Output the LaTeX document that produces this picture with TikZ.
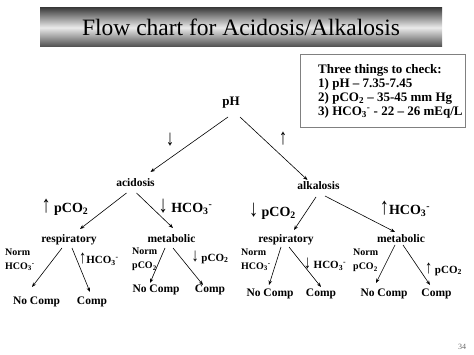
\documentclass[tikz,border=0pt]{standalone}
\usepackage{fontspec}
\setmainfont{Liberation Serif}
\usetikzlibrary{arrows.meta,positioning}
\newcommand{\pco}{pCO\textsubscript{2}}
\newcommand{\bic}{HCO\textsubscript{3}\textsuperscript{-}}
\newcommand{\uparr}{\scalebox{1.3}[1.7]{↑}}
\newcommand{\downarr}{\scalebox{1.3}[1.7]{↓}}
\tikzset{
    statenode/.style={
        font=\fontsize{11.5}{13}\selectfont\bfseries,
        inner sep=0pt,
        text height=8pt,
        text depth=2.5pt
    },
    leafnode/.style={
        statenode
    },
    biglabel/.style={
        font=\fontsize{14}{16}\selectfont\bfseries,
        inner sep=0pt
    },
    smalllabel/.style={
        font=\fontsize{11}{13}\selectfont\bfseries,
        inner sep=0pt
    },
    normlabel/.style={
        font=\fontsize{10}{14}\selectfont\bfseries,
        inner sep=0pt,
        align=left,
        anchor=west
    },
    flow/.style={
        -{Stealth[length=4.5pt,width=3.5pt]},
        line width=0.6pt
    },
    titlebar/.style={
        rectangle,
        top color=black!75,
        bottom color=black!70,
        middle color=black!8,
        minimum width=402pt,
        minimum height=39pt
    }
}
\begin{document}
\begin{tikzpicture}[x=1pt,y=-1pt]
    \useasboundingbox (0,0) rectangle (474,355);
    % Title bar
    \node[titlebar] (bar) at (241,27.5) {};
    \node[font=\fontsize{23.5}{26}\selectfont] (title) at (bar.center) {Flow chart for Acidosis/Alkalosis};

    % Reference values box
    \node[draw=black!50, line width=0.8pt, minimum width=165pt, minimum height=73pt] (box) at (382.5,90.5) {};
    \node[font=\fontsize{13}{14}\selectfont\bfseries, align=left, anchor=west, inner sep=0pt] (check) at (318,91)
        {Three things to check:\\1) pH -- 7.35-7.45\\2) \pco{} -- 35-45 mm Hg\\3) \bic{} - 22 -- 26 mEq/L};

    % Root
    \node[font=\fontsize{13}{15}\selectfont\bfseries, inner sep=0pt] (pH) at (231,103) {pH};

    % Level 1
    \node[statenode] (acid) at (135.5,184) {acidosis};
    \node[statenode] (alk) at (318.5,187) {alkalosis};
    \draw[flow] ([shift={(-3,14)}]pH.center) -- ([shift={(15,-12)}]acid.center);
    \draw[flow] ([shift={(9,14)}]pH.center) -- ([shift={(-11,-7)}]alk.center);
    \node[font=\fontsize{13}{15}\selectfont\bfseries, inner sep=0pt] (down) at (170,140) {\downarr};
    \node[font=\fontsize{13}{15}\selectfont\bfseries, inner sep=0pt] (up) at (283,139) {\uparr};

    % Level 2
    \node[statenode] (resp1) at (69,240) {respiratory};
    \node[statenode] (meta1) at (171.5,240) {metabolic};
    \node[statenode] (resp2) at (286,240) {respiratory};
    \node[statenode] (meta2) at (401,240) {metabolic};
    \draw[flow] ([shift={(-9,9)}]acid.center) -- ([shift={(11,-11)}]resp1.center);
    \draw[flow] ([shift={(1,9)}]acid.center) -- ([shift={(1.5,-12)}]meta1.center);
    \draw[flow] ([shift={(-2.5,10)}]alk.center) -- ([shift={(8,-10)}]resp2.center);
    \draw[flow] ([shift={(6.5,9)}]alk.center) -- ([shift={(-6,-8)}]meta2.center);
    \node[biglabel] (lab1) at (65,207) {\uparr{} \pco};
    \node[biglabel] (lab2) at (185.5,207) {\downarr{} \bic};
    \node[biglabel] (lab3) at (272.5,211) {\downarr{} \pco};
    \node[biglabel] (lab4) at (405,209) {\uparr\bic};

    % Level 3 leaves
    \node[leafnode] (nc1) at (36.5,302) {No Comp};
    \node[leafnode] (c1) at (92,302) {Comp};
    \node[leafnode] (nc2) at (156,290) {No Comp};
    \node[leafnode] (c2) at (210,290) {Comp};
    \node[leafnode] (nc3) at (270,294) {No Comp};
    \node[leafnode] (c3) at (321,294) {Comp};
    \node[leafnode] (nc4) at (384,294) {No Comp};
    \node[leafnode] (c4) at (436.5,294) {Comp};
    \draw[flow] ([shift={(-7,8)}]resp1.center) -- ([shift={(-4.5,-15)}]nc1.center);
    \draw[flow] ([shift={(3,8)}]resp1.center) -- ([shift={(-2,-10)}]c1.center);
    \draw[flow] ([shift={(-6.5,8)}]meta1.center) -- ([shift={(-6,-7)}]nc2.center);
    \draw[flow] ([shift={(1.5,8)}]meta1.center) -- ([shift={(-7,-5)}]c2.center);
    \draw[flow] ([shift={(-5,7)}]resp2.center) -- ([shift={(-1,-9)}]nc3.center);
    \draw[flow] ([shift={(3,7)}]resp2.center) -- ([shift={(0,-7)}]c3.center);
    \draw[flow] ([shift={(-6,5)}]meta2.center) -- ([shift={(-8,-11)}]nc4.center);
    \draw[flow] ([shift={(2,5)}]meta2.center) -- ([shift={(-6.5,-9)}]c4.center);

    % Labels on the lower arrows
    \node[normlabel] (n1) at (5,260) {Norm\\\bic};
    \node[smalllabel] (s1) at (99,259) {\uparr\bic};
    \node[normlabel] (n2) at (132,259.5) {Norm\\\pco};
    \node[smalllabel] (s2) at (210,257) {\downarr{} \pco};
    \node[normlabel] (n3) at (241,260) {Norm\\\bic};
    \node[smalllabel] (s3) at (325,264) {\downarr{} \bic};
    \node[normlabel] (n4) at (353,260.5) {Norm\\\pco};
    \node[smalllabel] (s4) at (443.5,269) {\uparr{} \pco};

    % Slide number
    \node[font=\fontsize{8}{9}\selectfont, text=black!60, inner sep=0pt] (page) at (462,347) {34};
\end{tikzpicture}
\end{document}
